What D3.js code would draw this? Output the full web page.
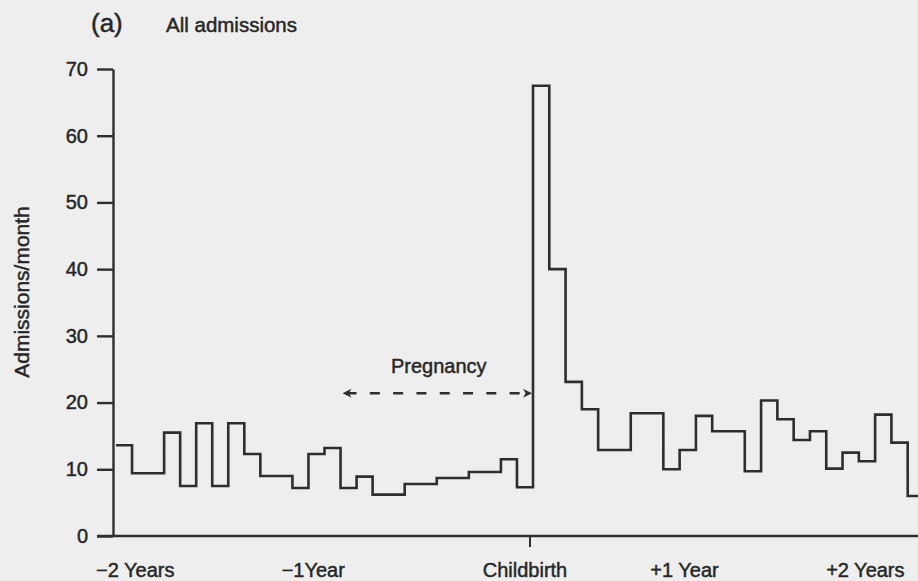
<!DOCTYPE html>
<html>
<head>
<meta charset="utf-8">
<script src="https://cdn.jsdelivr.net/npm/d3@7"></script>
<style>
  html, body { margin: 0; padding: 0; background: #eeeeee; }
  svg { display: block; }
  text { font-family: "Liberation Sans", Arial, Helvetica, sans-serif; fill: #262626;
         stroke: #262626; stroke-width: 0.45px; }
</style>
</head>
<body>
<script>
// Monthly admissions, 26 bins before childbirth and 24 after
const before = [13.6, 9.4, 9.4, 15.5, 7.5, 16.9, 7.5, 16.9, 12.3, 9.0, 9.0, 7.2, 12.3,
                13.2, 7.2, 8.9, 6.2, 6.2, 7.8, 7.8, 8.7, 8.7, 9.6, 9.6, 11.5, 7.3];
const after  = [67.5, 40.0, 23.1, 19.0, 12.9, 12.9, 18.4, 18.4, 10.0, 12.9, 18.0, 15.7,
                15.7, 9.7, 20.3, 17.5, 14.4, 15.7, 10.1, 12.5, 11.2, 18.2, 14.0, 6.0];
const admissions = before.concat(after);

const yTicks = [0, 10, 20, 30, 40, 50, 60, 70];
const periodLabels = ["\u22122 Years", "\u22121Year", "Childbirth", "+1 Year", "+2 Years"];
const periodLabelAt = [1.2, 12.3, 25.5, 35.3, 46.4];   // in bins
const childbirthBin = before.length;
const pregnancyStart = 14;
const pregnancyLevel = 21.4;

const W = 918, H = 581;
const svg = d3.select("body").append("svg").attr("width", W).attr("height", H);

const x = d3.scaleLinear()
  .domain([0, childbirthBin, admissions.length])
  .range([116, 533, 924]);
const y = d3.scaleLinear().domain([0, 70]).range([536, 69]);

const ink = "#2e2e2e";

// y axis
const yAxis = d3.axisLeft(y).tickValues(yTicks).tickSize(16).tickPadding(9).tickSizeOuter(0);
const gy = svg.append("g").attr("transform", "translate(113,0)").call(yAxis);
gy.select(".domain").attr("stroke", ink).attr("stroke-width", 2.4);
gy.selectAll(".tick line").attr("stroke", ink).attr("stroke-width", 2.4);
gy.selectAll(".tick text").style("font-size", "20px").attr("fill", "#262626")
  .attr("font-family", null);

// x axis baseline, with the childbirth tick
svg.append("line")
  .attr("x1", 97).attr("x2", W).attr("y1", y(0)).attr("y2", y(0))
  .attr("stroke", ink).attr("stroke-width", 2.6);
svg.append("line")
  .attr("x1", x(childbirthBin) - 3).attr("x2", x(childbirthBin) - 3)
  .attr("y1", y(0)).attr("y2", y(0) + 11)
  .attr("stroke", ink).attr("stroke-width", 2);

svg.append("g").selectAll("text").data(periodLabels).join("text")
  .attr("x", (d, i) => x(periodLabelAt[i]))
  .attr("y", 577)
  .attr("text-anchor", "middle")
  .style("font-size", "20px")
  .text(d => d);

// histogram outline
const pts = admissions.map((v, i) => [i, v]);
pts.push([admissions.length, admissions[admissions.length - 1]]);
svg.append("path")
  .datum(pts)
  .attr("fill", "none")
  .attr("stroke", ink)
  .attr("stroke-width", 2.6)
  .attr("stroke-linejoin", "miter")
  .attr("d", d3.line().x(d => x(d[0])).y(d => y(d[1])).curve(d3.curveStepAfter));

// pregnancy arrow
const defs = svg.append("defs");
defs.append("marker").attr("id", "head")
  .attr("viewBox", "0 0 10 10").attr("refX", 10).attr("refY", 5)
  .attr("markerWidth", 11).attr("markerHeight", 9).attr("markerUnits", "userSpaceOnUse")
  .attr("orient", "auto-start-reverse")
  .append("path").attr("d", "M0,0 L10,5 L0,10 L3,5 Z").attr("fill", ink);

svg.append("line")
  .attr("x1", x(pregnancyStart) + 2).attr("x2", x(childbirthBin) - 1)
  .attr("y1", y(pregnancyLevel)).attr("y2", y(pregnancyLevel))
  .attr("stroke", ink).attr("stroke-width", 2.4)
  .attr("stroke-dasharray", "10,13.3")
  .attr("stroke-dashoffset", -4)
  .attr("marker-start", "url(#head)")
  .attr("marker-end", "url(#head)");

svg.append("text")
  .attr("x", (x(pregnancyStart) + x(childbirthBin)) / 2 + 2)
  .attr("y", 373)
  .attr("text-anchor", "middle")
  .style("font-size", "20px")
  .text("Pregnancy");

// titles
svg.append("text").attr("x", 91).attr("y", 32).style("font-size", "26px").text("(a)");
svg.append("text").attr("x", 166).attr("y", 32).style("font-size", "20.5px").text("All admissions");
svg.append("text")
  .attr("transform", "translate(29,292) rotate(-90)")
  .attr("text-anchor", "middle")
  .style("font-size", "21px")
  .text("Admissions/month");
</script>
</body>
</html>
